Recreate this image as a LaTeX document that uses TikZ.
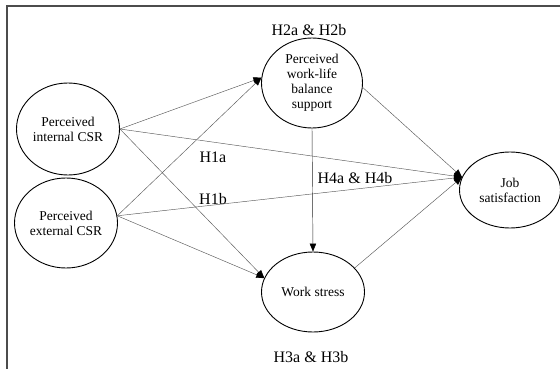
\documentclass[tikz,border=0pt]{standalone}
\usepackage{fontspec}
\setmainfont{Liberation Serif}
\usetikzlibrary{arrows.meta,shapes.geometric}

\begin{document}
\begin{tikzpicture}[x=1pt,y=-1pt,
        ell/.style={shape=ellipse,draw=black,line width=0.9pt,inner sep=0pt,align=center,font=\fontsize{13.5}{15}\selectfont},
        hyp/.style={font=\fontsize{16}{18}\selectfont},
        arr/.style={-{Triangle[length=8pt,width=6.5pt,color=black]},draw=gray!70!black,line width=0.45pt}]
        \useasboundingbox (0,0) rectangle (560,369);
        \draw[gray!60!black,line width=2pt] (7,369) -- (7,6);
        \draw[gray!60!black,line width=1.4pt] (6,6) -- (560,6);

        \node[ell,minimum width=103pt,minimum height=92pt] (int) at (68,129)  {Perceived\\internal CSR};
        \node[ell,minimum width=103pt,minimum height=90pt] (ext) at (66,223)  {Perceived\\external CSR};
        \node[ell,minimum width=101pt,minimum height=90pt] (wlb) at (312,83)  {Perceived\\work-life\\balance\\support};
        \node[ell,minimum width=101pt,minimum height=76pt] (js)  at (510,190) {Job\\satisfaction};
        \node[ell,minimum width=103pt,minimum height=80pt] (ws)  at (313,292) {Work stress};

        \node[hyp] (h2) at (309,30)  {H2a \& H2b};
        \node[hyp] (h3) at (311,357) {H3a \& H3b};
        \node[hyp] (h1a) at (213,157) {H1a};
        \node[hyp] (h1b) at (213,199) {H1b};
        \node[hyp] (h4) at (355,178) {H4a \& H4b};

	\path (int.east) edge[arr] (wlb.174);
	\path (int.east) edge[arr] (js.165);
	\path (int.east) edge[arr] (ws.164);
	\path (ext.8) edge[arr] (wlb.174);
	\path (ext.8) edge[arr] (js.165);
	\path (ext.8) edge[arr] (ws.164);
	\path (wlb.south) edge[arr,draw=black!85] (ws.north);
	\path (wlb.-5) edge[arr] (js.165);
	\path (ws.30) edge[arr] (js.165);
	\end{tikzpicture}
\end{document}
